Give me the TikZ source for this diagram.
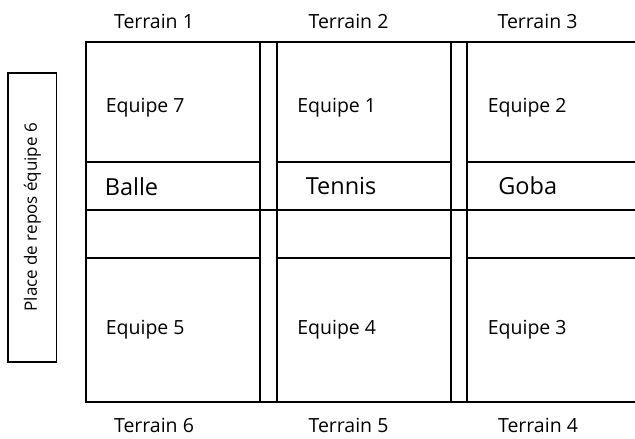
\documentclass[tikz,border=0pt]{standalone}
\usepackage{fontspec}
\setmainfont{Open Sans}

\tikzset{
    terrain/.style={font=\fontsize{19.5}{22}\selectfont,inner sep=0pt,anchor=base},
    equipe/.style={font=\fontsize{19.5}{22}\selectfont,inner sep=0pt,anchor=base west},
    sport/.style={font=\fontsize{23.5}{26}\selectfont,inner sep=0pt,anchor=base west}
}

\begin{document}
\begin{tikzpicture}[x=1pt,y=-1pt,line width=1.6pt,line join=miter]
    \useasboundingbox (0,0) rectangle (635,439);

    \def\top{42}
    \def\bottom{402}

    % the terrains
    \begin{scope}
        \draw (635,\top) -- (86,\top) -- (86,\bottom) -- (635,\bottom);
        \draw (260,\top) -- (260,\bottom);
        \draw (277,\top) -- (277,\bottom);
        \draw (451,\top) -- (451,\bottom);
        \draw (467,\top) -- (467,\bottom);
        \draw (86,210) -- (635,210);
        \foreach \a/\b in {86/260,277/451,467/635} {
            \draw (\a,162) -- (\b,162);
            \draw (\a,258) -- (\b,258);
        }
    \end{scope}

    % team names
    \draw (105,112.7) node[equipe] (e7) {Equipe 7};
    \draw (296.5,112.7) node[equipe] (e1) {Equipe 1};
    \draw (487,112.7) node[equipe] (e2) {Equipe 2};
    \draw (105,334) node[equipe] (e5) {Equipe 5};
    \draw (296.5,334) node[equipe] (e4) {Equipe 4};
    \draw (487,334) node[equipe] (e3) {Equipe 3};

    \draw (104,195) node[sport] (balle) {Balle};
    \draw (305,194) node[sport] (tennis) {Tennis};
    \draw (497.5,194) node[sport] (goba) {Goba};

    % field numbers
    \draw (154,28.3) node[terrain] (t1) {Terrain 1};
    \draw (348.5,28.3) node[terrain] (t2) {Terrain 2};
    \draw (537.5,28.3) node[terrain] (t3) {Terrain 3};
    \draw (154,432) node[terrain] (t6) {Terrain 6};
    \draw (348.5,432) node[terrain] (t5) {Terrain 5};
    \draw (538,432) node[terrain] (t4) {Terrain 4};

    \draw (32.3,217.2) node[draw,rotate=90,minimum width=289,minimum height=48.5,inner sep=0pt,
        font=\fontsize{17}{19}\selectfont] (repos) {Place de repos équipe 6};

\end{tikzpicture}
\end{document}
